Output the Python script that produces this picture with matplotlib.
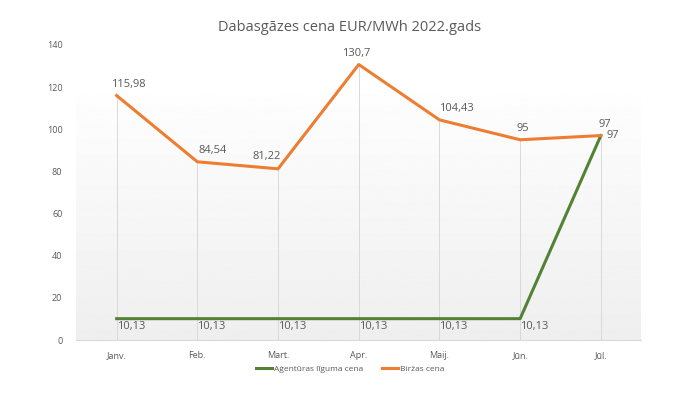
import numpy as np
import matplotlib.pyplot as plt

# data
months = ['Janv.', 'Feb.', 'Mart.', 'Apr.', 'Maij.', 'Jūn.', 'Jūl.']
agentura = [10.13, 10.13, 10.13, 10.13, 10.13, 10.13, 97]
birza = [115.98, 84.54, 81.22, 130.7, 104.43, 95, 97]

orange = '#ED7D31'
green = '#548235'
gray = '#595959'

plt.rcParams['font.family'] = ['Open Sans', 'DejaVu Sans']

fig = plt.figure(figsize=(7, 3.94), dpi=100)
ax = fig.add_axes([0.109, 0.137, 0.807, 0.749])

x = np.arange(len(months))
ax.set_xlim(-0.5, len(months) - 0.5)
ax.set_ylim(0, 140)

# gradient background of the plot area
grad = np.linspace(0.935, 0.995, 256).reshape(-1, 1)
ax.imshow(grad, cmap='gray', vmin=0, vmax=1, aspect='auto',
          extent=(-0.5, len(months) - 0.5, 0, 116.5), origin='lower', zorder=0)

# drop lines from highest point to the axis
tops = np.maximum(agentura, birza)
ax.vlines(x, 0, tops, color='#d9d9d9', lw=0.7, zorder=1)

ax.plot(x, agentura, color=green, lw=2.2, label='Aģentūras līguma cena', zorder=3)
ax.plot(x, birza, color=orange, lw=2.2, label='Biržas cena', zorder=3)

def fmt(v):
    s = ('%.2f' % v).rstrip('0').rstrip('.')
    return s.replace('.', ',')

# data labels (offsets in points)
b_off = [(-4, 4, 'left'), (1, 4, 'left'), (-8, 5, 'center'), (-2, 4, 'center'),
         (0, 4, 'left'), (2, 4, 'center'), (3, 4, 'center')]
for xi, v, (dx, dy, ha) in zip(x, birza, b_off):
    ax.annotate(fmt(v), (xi, v), xytext=(dx, dy), textcoords='offset points',
                ha=ha, va='bottom', fontsize=8, color=gray, zorder=4)
for xi, v in zip(x[:-1], agentura[:-1]):
    ax.annotate(fmt(v), (xi, v), xytext=(0, -2), textcoords='offset points',
                ha='left', va='top', fontsize=8, color=gray, zorder=4)
ax.annotate(fmt(agentura[-1]), (x[-1], agentura[-1]), xytext=(4, 0),
            textcoords='offset points', ha='left', va='center', fontsize=8,
            color=gray, zorder=4)

ax.set_xticks(x)
ax.set_xticklabels(months)
ax.set_yticks(range(0, 141, 20))
ax.tick_params(axis='both', length=0, labelsize=6.5, colors=gray, pad=10)
ax.tick_params(axis='x', pad=8)
for s in ['top', 'right', 'left']:
    ax.spines[s].set_visible(False)
ax.spines['bottom'].set_color('#d9d9d9')
ax.spines['bottom'].set_linewidth(0.8)
ax.set_facecolor('white')

fig.suptitle('Dabasgāzes cena EUR/MWh 2022.gads', y=0.95, fontsize=10.5, color=gray)
fig.legend(loc='lower center', ncol=2, bbox_to_anchor=(0.5, 0.035), frameon=False,
           fontsize=6, labelcolor=gray, handlelength=2, handletextpad=0.2,
           columnspacing=2.2)

fig.savefig('out.png', dpi=100)
